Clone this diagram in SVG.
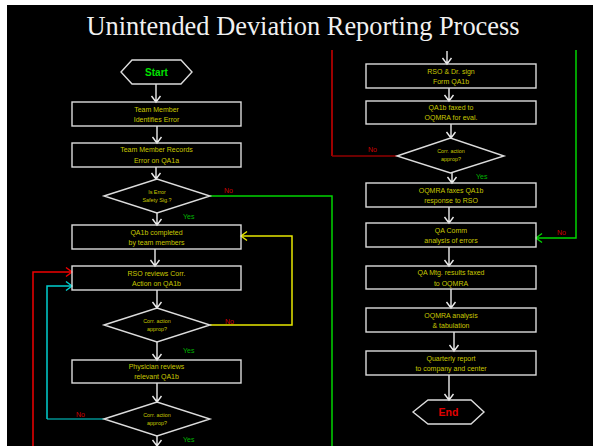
<svg xmlns="http://www.w3.org/2000/svg" width="593" height="446" viewBox="0 0 593 446">
<style>
.box{fill:none;stroke:#dcdcdc;stroke-width:1.4}
.t{font-family:"Liberation Sans",Arial,sans-serif;font-size:7px;fill:#c8c800;text-anchor:middle}
.dt{font-family:"Liberation Sans",Arial,sans-serif;font-size:5.4px;fill:#c8c800;text-anchor:middle}
.yes{font-family:"Liberation Sans",Arial,sans-serif;font-size:7px;fill:#00b400}
.no{font-family:"Liberation Sans",Arial,sans-serif;font-size:7px;fill:#d00000}
.w{stroke:#ececec;stroke-width:1.4;fill:none}
</style>
<rect x="0" y="0" width="593" height="446" fill="#ffffff"/>
<rect x="7" y="5" width="586" height="441" fill="#000000"/>
<text x="303" y="35" font-family="Liberation Serif,'Times New Roman',serif" font-size="26.4" fill="#f0f0f0" text-anchor="middle">Unintended Deviation Reporting Process</text>

<g id="connectors">
<path class="w" d="M156,84V102M151.5,96L156,102L160.5,96"/>
<path class="w" d="M157,126V143M152.5,137L157,143L161.5,137"/>
<path class="w" d="M156,167V179M151.5,173L156,179L160.5,173"/>
<path class="w" d="M157,213V225M152.5,219L157,225L161.5,219"/>
<path class="w" d="M155,249V266M150.5,260L155,266L159.5,260"/>
<path class="w" d="M157,290V308M152.5,302L157,308L161.5,302"/>
<path class="w" d="M157,342V360M152.5,354L157,360L161.5,354"/>
<path class="w" d="M157,383V402M152.5,396L157,402L161.5,396"/>
<path class="w" d="M157,436V446M152.5,440L157,446L161.5,440"/>
<path class="w" d="M447,51V64M442.5,58L447,64L451.5,58"/>
<path class="w" d="M449,88V101M444.5,95L449,101L453.5,95"/>
<path class="w" d="M451,124V138M446.5,132L451,138L455.5,132"/>
<path class="w" d="M452,173V183M447.5,177L452,183L456.5,177"/>
<path class="w" d="M449,207V223M444.5,217L449,223L453.5,217"/>
<path class="w" d="M449,247V266M444.5,260L449,266L453.5,260"/>
<path class="w" d="M451,289V308M446.5,302L451,308L455.5,302"/>
<path class="w" d="M454,332V351M449.5,345L454,351L458.5,345"/>
<path class="w" d="M449,375V400M444.5,394L449,400L453.5,394"/>
<path d="M210,196H332V446" fill="none" stroke="#00d400" stroke-width="1.5"/>
<path d="M210,325H292V236H241" fill="none" stroke="#e8e800" stroke-width="1.5"/>
<path d="M247,231.5L241,236L247,240.5" fill="none" stroke="#e8e800" stroke-width="1.4"/>
<path d="M33,446V272H72" fill="none" stroke="#f00000" stroke-width="1.5"/>
<path d="M66,267.5L72,272L66,276.5" fill="none" stroke="#f00000" stroke-width="1.4"/>
<path d="M104,419H47" fill="none" stroke="#009090" stroke-width="1.5"/>
<path d="M47,419V286H72" fill="none" stroke="#00d0d0" stroke-width="1.5"/>
<path d="M66,281.5L72,286L66,290.5" fill="none" stroke="#00d0d0" stroke-width="1.4"/>
<path d="M332,50V156" fill="none" stroke="#d00000" stroke-width="1.5"/>
<path d="M332,156H397" fill="none" stroke="#900000" stroke-width="1.5"/>
<path d="M576,50V238H536" fill="none" stroke="#00d400" stroke-width="1.5"/>
<path d="M542,233.5L536,238L542,242.5" fill="none" stroke="#00d400" stroke-width="1.4"/>
</g>

<g id="start">
<polygon class="box" points="121,72 132,60 181,60 192,72 181,84 132,84"/>
<text x="156.5" y="75.5" font-family="Liberation Sans,Arial,sans-serif" font-size="10" font-weight="bold" fill="#00e000" text-anchor="middle">Start</text>
</g>
<g id="b1"><rect class="box" x="72" y="102" width="169" height="24"/><text class="t" x="156.5" y="111.5">Team Member</text><text class="t" x="156.5" y="121.5">Identifies Error</text></g>
<g id="b2"><rect class="box" x="72" y="143" width="169" height="24"/><text class="t" x="156.5" y="152">Team Member Records</text><text class="t" x="156.5" y="162.5">Error on QA1a</text></g>
<g id="d1"><polygon class="box" points="104,196 157,179 210,196 157,213"/><text class="dt" x="157" y="194">Is Error</text><text class="dt" x="157" y="202">Safety Sig.?</text></g>
<g id="b3"><rect class="box" x="72" y="225" width="169" height="24"/><text class="t" x="156.5" y="234.5">QA1b completed</text><text class="t" x="156.5" y="244.5">by team members</text></g>
<g id="b4"><rect class="box" x="72" y="266" width="169" height="24"/><text class="t" x="156.5" y="275.5">RSO reviews Corr.</text><text class="t" x="156.5" y="285.5">Action on QA1b</text></g>
<g id="d2"><polygon class="box" points="104,325 157,308 210,325 157,342"/><text class="dt" x="157" y="323">Corr. action</text><text class="dt" x="157" y="331">approp?</text></g>
<g id="b5"><rect class="box" x="72" y="360" width="169" height="23"/><text class="t" x="156.5" y="369">Physician reviews</text><text class="t" x="156.5" y="379">relevant QA1b</text></g>
<g id="d3"><polygon class="box" points="104,419 157,402 210,419 157,436"/><text class="dt" x="157" y="417">Corr. action</text><text class="dt" x="157" y="425">approp?</text></g>

<g id="r1"><rect class="box" x="366" y="64" width="170" height="24"/><text class="t" x="451" y="73.5">RSO &amp; Dr. sign</text><text class="t" x="451" y="83.5">Form QA1b</text></g>
<g id="r2"><rect class="box" x="366" y="101" width="170" height="23"/><text class="t" x="451" y="110">QA1b faxed to</text><text class="t" x="451" y="120">OQMRA for eval.</text></g>
<g id="rd"><polygon class="box" points="397,156 450.5,138 504,156 450.5,173"/><text class="dt" x="451" y="153">Corr. action</text><text class="dt" x="451" y="161">approp?</text></g>
<g id="r3"><rect class="box" x="366" y="183" width="170" height="24"/><text class="t" x="451" y="192.5">OQMRA faxes QA1b</text><text class="t" x="451" y="202.5">response to RSO</text></g>
<g id="r4"><rect class="box" x="366" y="223" width="170" height="24"/><text class="t" x="451" y="232.5">QA Comm</text><text class="t" x="451" y="243">analysis of errors</text></g>
<g id="r5"><rect class="box" x="366" y="266" width="170" height="23"/><text class="t" x="451" y="275">QA Mtg. results faxed</text><text class="t" x="451" y="285.5">to OQMRA</text></g>
<g id="r6"><rect class="box" x="366" y="308" width="170" height="24"/><text class="t" x="451" y="317.5">OQMRA analysis</text><text class="t" x="451" y="327.5">&amp; tabulation</text></g>
<g id="r7"><rect class="box" x="366" y="351" width="170" height="24"/><text class="t" x="451" y="360.5">Quarterly report</text><text class="t" x="451" y="371">to company and center</text></g>
<g id="end">
<polygon class="box" points="413,412 428,400 471,400 484,412 471,424 428,424"/>
<text x="448.5" y="415.5" font-family="Liberation Sans,Arial,sans-serif" font-size="10.5" font-weight="bold" fill="#e00000" text-anchor="middle">End</text>
</g>

<g id="labels">
<text class="no" x="224" y="193">No</text>
<text class="yes" x="183" y="219">Yes</text>
<text class="no" x="225" y="323.5">No</text>
<text class="yes" x="183" y="353">Yes</text>
<text class="no" x="76" y="416.5">No</text>
<text class="yes" x="183" y="441.5">Yes</text>
<text class="no" x="368" y="151.5">No</text>
<text class="yes" x="476" y="179">Yes</text>
<text class="no" x="557" y="234.5">No</text>
</g>
</svg>
